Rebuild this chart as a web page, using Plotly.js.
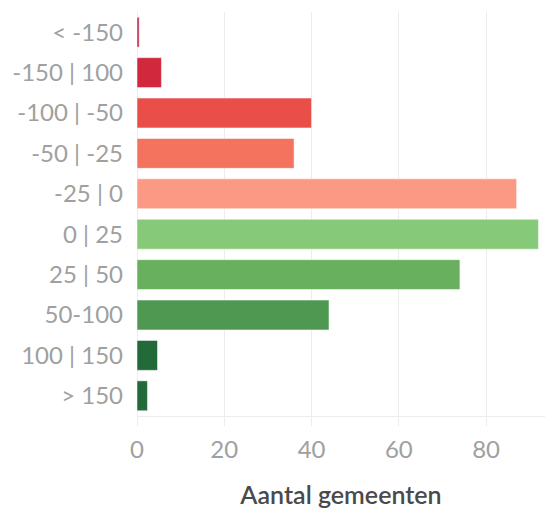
<!DOCTYPE html>
<html><head><meta charset="utf-8">
<script src="https://cdn.plot.ly/plotly-3.0.1.min.js"></script>
<style>html,body{margin:0;padding:0;background:#fff}#chart{width:552px;height:514px}</style>
</head><body><div id="chart"></div>
<script>
const categories = ["< -150", "-150 | 100", "-100 | -50", "-50 | -25", "-25 | 0", "0 | 25", "25 | 50", "50-100", "100 | 150", "> 150"];
const values = [0.5, 5.6, 40, 36, 87, 92, 74, 44, 4.7, 2.4];
const colors = ["#c3264c", "#d1283d", "#e94e48", "#f4735e", "#fb9985", "#86c978", "#69b05e", "#4e9852", "#236a3b", "#236a3b"];
const xTicks = [0, 20, 40, 60, 80];

Plotly.newPlot('chart', [{
  type: 'bar', orientation: 'h', y: categories, x: values,
  marker: {color: colors, line: {color: 'rgba(255,255,255,0.5)', width: 1}},
  hoverinfo: 'none'
}], {
  width: 552, height: 514,
  margin: {l: 137, r: 7, t: 12, b: 98},
  paper_bgcolor: '#fff', plot_bgcolor: '#fff',
  bargap: 0.26, showlegend: false,
  font: {family: 'Lato, sans-serif', color: '#999', size: 24},
  xaxis: {range: [0, 93.5], tickvals: xTicks, ticktext: xTicks.map(String),
    showgrid: true, gridcolor: '#ececec', gridwidth: 1,
    zeroline: true, zerolinecolor: '#ececec', zerolinewidth: 1,
    showline: true, linecolor: '#ececec', ticks: 'outside', ticklen: 9, tickcolor: '#ececec',
    ticklabelstandoff: 3,
    tickfont: {size: 24, color: '#a0a0a0'},
    title: {text: 'Aantal gemeenten', font: {size: 25, color: '#4a4a4a', family: 'Lato, sans-serif', weight: 600}, standoff: 24},
    fixedrange: true},
  yaxis: {autorange: 'reversed', showgrid: false, zeroline: false, showline: false, ticks: '',
    ticklabelstandoff: 13, tickfont: {size: 24, color: '#a0a0a0'}, fixedrange: true}
}, {displayModeBar: false, staticPlot: true});
</script></body></html>
